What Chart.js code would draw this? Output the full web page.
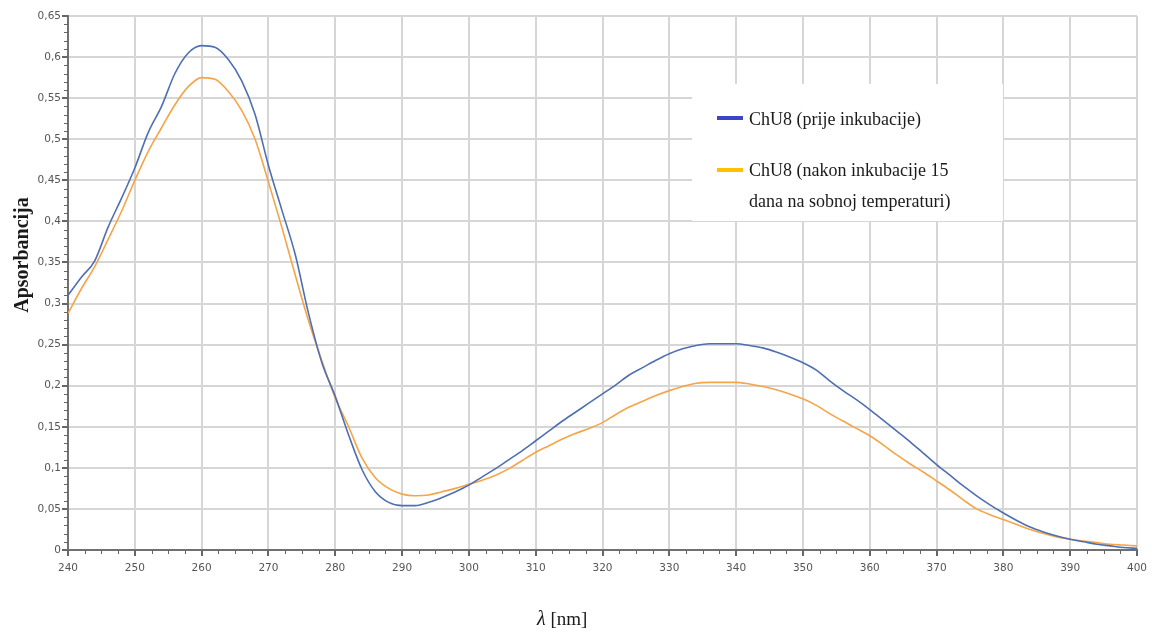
<!DOCTYPE html>
<html>
<head>
<meta charset="utf-8">
<script src="https://cdn.jsdelivr.net/npm/chart.js@4"></script>
<style>
  html, body { margin: 0; padding: 0; background: #ffffff; }
  #wrap { width: 1155px; height: 635px; position: relative; }
</style>
</head>
<body>
<div id="wrap"><canvas id="c" width="1155" height="635"></canvas></div>
<script>
// ---- data ----
const wavelengths = [240,242,244,246,248,250,252,254,256,258,260,262,264,266,268,270,272,274,276,278,280,282,284,286,288,290,292,294,296,298,300,302,304,306,308,310,312,314,316,318,320,322,324,326,328,330,332,334,336,338,340,342,344,346,348,350,352,354,356,358,360,362,364,366,368,370,372,374,376,378,380,382,384,386,388,390,392,394,396,398,400];
const beforeIncubation = [0.310,0.332,0.352,0.393,0.428,0.465,0.508,0.540,0.580,0.605,0.614,0.612,0.597,0.571,0.530,0.468,0.414,0.360,0.288,0.228,0.187,0.140,0.098,0.071,0.058,0.054,0.054,0.058,0.064,0.071,0.079,0.089,0.099,0.110,0.121,0.133,0.145,0.157,0.168,0.179,0.190,0.201,0.213,0.222,0.231,0.239,0.245,0.249,0.251,0.251,0.251,0.249,0.246,0.241,0.235,0.228,0.219,0.206,0.194,0.183,0.171,0.158,0.145,0.132,0.118,0.104,0.091,0.078,0.066,0.055,0.045,0.036,0.028,0.022,0.017,0.013,0.010,0.007,0.005,0.003,0.002];
const afterIncubation = [0.288,0.318,0.345,0.378,0.412,0.450,0.485,0.514,0.542,0.564,0.575,0.573,0.558,0.535,0.500,0.448,0.393,0.335,0.279,0.230,0.185,0.150,0.112,0.088,0.075,0.068,0.066,0.067,0.071,0.075,0.080,0.085,0.091,0.099,0.109,0.119,0.127,0.135,0.142,0.148,0.155,0.165,0.174,0.181,0.188,0.194,0.199,0.203,0.204,0.204,0.204,0.202,0.199,0.195,0.190,0.184,0.176,0.166,0.157,0.148,0.139,0.128,0.116,0.105,0.095,0.084,0.073,0.061,0.050,0.043,0.037,0.031,0.025,0.020,0.016,0.013,0.011,0.009,0.007,0.006,0.005];
const seriesNames = ['ChU8 (prije inkubacije)', 'ChU8 (nakon inkubacije 15', 'dana na sobnoj temperaturi)'];
const xTitle = ['λ', ' [nm]'];
const yTitle = 'Apsorbancija';

const toPts = arr => wavelengths.map((w, i) => ({ x: w, y: arr[i] }));

const bgPlugin = {
  id: 'bg',
  beforeDraw(chart) {
    const ctx = chart.ctx;
    ctx.save();
    ctx.fillStyle = '#ffffff';
    ctx.fillRect(0, 0, chart.width, chart.height);
    ctx.restore();
  }
};

const decoPlugin = {
  id: 'deco',
  afterDraw(chart) {
    const ctx = chart.ctx;
    const xs = chart.scales.x, ys = chart.scales.y;
    ctx.save();
    // minor ticks
    ctx.strokeStyle = '#666666';
    ctx.lineWidth = 1;
    ctx.beginPath();
    for (let v = 240; v <= 400.001; v += 2.5) {
      const px = Math.round(xs.getPixelForValue(v)) + 0.5;
      ctx.moveTo(px, ys.bottom);
      ctx.lineTo(px, ys.bottom + 4);
    }
    for (let k = 0; k <= 65; k++) {
      const py = Math.round(ys.getPixelForValue(k / 100)) + 0.5;
      ctx.moveTo(xs.left - 4, py);
      ctx.lineTo(xs.left, py);
    }
    ctx.stroke();

    // legend box
    ctx.fillStyle = '#ffffff';
    ctx.fillRect(692, 84, 311, 137);
    ctx.fillStyle = '#3b45c6';
    ctx.fillRect(717, 116, 26, 4);
    ctx.fillStyle = '#ffc000';
    ctx.fillRect(717, 168, 26, 4);
    ctx.fillStyle = '#1a1a1a';
    ctx.font = '18px "Liberation Serif"';
    ctx.textAlign = 'left';
    ctx.textBaseline = 'middle';
    ctx.fillText(seriesNames[0], 749, 120);
    ctx.fillText(seriesNames[1], 749, 171);
    ctx.fillText(seriesNames[2], 749, 202);

    // y title
    ctx.save();
    ctx.translate(28, 255);
    ctx.rotate(-Math.PI / 2);
    ctx.font = 'bold 20px "Liberation Serif"';
    ctx.textAlign = 'center';
    ctx.textBaseline = 'alphabetic';
    ctx.fillStyle = '#1a1a1a';
    ctx.fillText(yTitle, 0, 0);
    ctx.restore();

    // x title
    ctx.textBaseline = 'alphabetic';
    ctx.textAlign = 'left';
    ctx.font = 'italic 20px "Liberation Serif"';
    ctx.fillText(xTitle[0], 537, 625);
    const w0 = ctx.measureText(xTitle[0]).width;
    ctx.font = '19px "Liberation Serif"';
    ctx.fillText(xTitle[1], 537 + w0, 625);
    ctx.restore();
  }
};

const fmtY = v => {
  const r = Math.round(v * 100) / 100;
  return String(r).replace('.', ',');
};

new Chart(document.getElementById('c'), {
  type: 'line',
  data: {
    datasets: [
      {
        label: seriesNames[0],
        data: toPts(beforeIncubation),
        borderColor: '#4f6fb3',
        borderWidth: 1.6,
        pointRadius: 0,
        cubicInterpolationMode: 'monotone',
        fill: false
      },
      {
        label: seriesNames[1] + ' ' + seriesNames[2],
        data: toPts(afterIncubation),
        borderColor: '#f5a447',
        borderWidth: 1.6,
        pointRadius: 0,
        cubicInterpolationMode: 'monotone',
        fill: false
      }
    ]
  },
  options: {
    responsive: false,
    animation: false,
    devicePixelRatio: 1,
    layout: { padding: { top: 16, right: 18, left: 0, bottom: 0 } },
    plugins: {
      legend: { display: false },
      tooltip: { enabled: false },
      title: { display: false }
    },
    scales: {
      x: {
        type: 'linear',
        min: 240,
        max: 400,
        afterFit(s) { s.height = 85; },
        ticks: {
          stepSize: 10,
          color: '#555555',
          font: { family: '"DejaVu Sans"', size: 10.5 },
          padding: 6,
          maxRotation: 0
        },
        grid: {
          color: '#d6d6d6',
          lineWidth: 2,
          tickColor: '#666666',
          tickLength: 6
        },
        border: { color: '#707070', width: 2 }
      },
      y: {
        min: 0,
        max: 0.65,
        afterFit(s) { s.width = 68; },
        ticks: {
          stepSize: 0.05,
          color: '#555555',
          font: { family: '"DejaVu Sans"', size: 10.5 },
          padding: 1,
          callback: v => fmtY(v)
        },
        grid: {
          color: '#d6d6d6',
          lineWidth: 2,
          tickColor: '#666666',
          tickLength: 6
        },
        border: { color: '#707070', width: 2 }
      }
    }
  },
  plugins: [bgPlugin, decoPlugin]
});
</script>
</body>
</html>
